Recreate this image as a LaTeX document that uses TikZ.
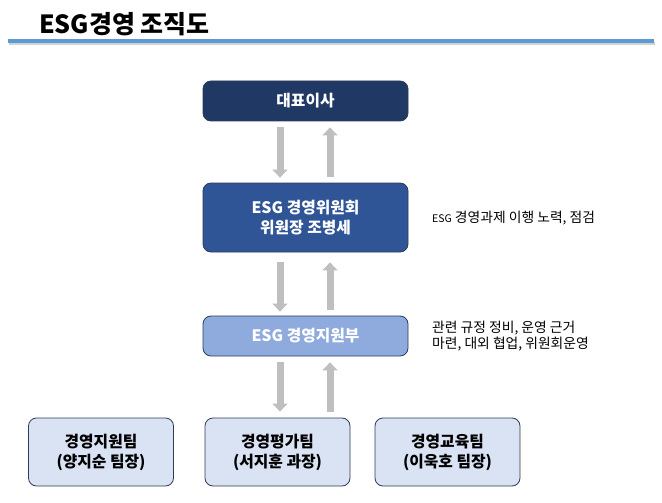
\documentclass[tikz,border=0pt]{standalone}
\usepackage{fontspec}
\setmainfont{Noto Sans CJK KR}
\usetikzlibrary{arrows.meta}

\definecolor{navyceo}{HTML}{203864}
\definecolor{bluecmte}{HTML}{2F5597}
\definecolor{bluedept}{HTML}{8FAADC}
\definecolor{blueteam}{HTML}{DAE3F3}
\definecolor{boxline}{HTML}{2F3B57}
\definecolor{headline}{HTML}{5B9BD5}
\definecolor{flowgray}{HTML}{BFBFBF}

\newcommand{\boxfont}{\fontsize{15.8}{20}\selectfont\bfseries}
\newcommand{\notefont}{\fontsize{13.8}{16.5}\selectfont}

\begin{document}
\begin{tikzpicture}[x=1pt,y=-1pt,
	orgbox/.style={draw=boxline,line width=0.8pt,rounded corners=8pt,
		minimum width=205pt,minimum height=40pt,inner sep=0pt,
		align=center,font=\boxfont},
	teambox/.style={orgbox,fill=blueteam,text=black,minimum width=145pt,minimum height=68pt},
	flow/.style={draw=flowgray,line width=7pt,-{Triangle[width=15pt,length=8pt]}},
	note/.style={anchor=west,align=left,inner sep=0pt,font=\notefont}]

		\useasboundingbox (0,0) rectangle (662,503);

		% title and rule
		\node (title) [anchor=west,inner sep=0pt,font=\fontsize{25}{28}\selectfont\bfseries] at (39,24.5) {ESG경영 조직도};
		\draw [line width=3pt,black!18] (9,44) -- (655,44);
		\draw [line width=3.5pt,headline] (8,41) -- (654,41);

		% boxes
		\node (ceo)  [orgbox,fill=navyceo,text=white] at (305.5,101) {대표이사};
		\node (cmte) [orgbox,fill=bluecmte,text=white,minimum height=69pt] at (305.5,217.5) {ESG 경영위원회\\위원장 조병세};
		\node (dept) [orgbox,fill=bluedept,text=white] at (305.5,336) {ESG 경영지원부};

		\node (team1) [teambox] at (101,452)   {경영지원팀\\(양지순 팀장)};
		\node (team2) [teambox] at (277.5,452) {경영평가팀\\(서지훈 과장)};
		\node (team3) [teambox] at (447.5,452) {경영교육팀\\(이욱호 팀장)};

		% notes
		\node (note1) [note] at (432,218) {{\fontsize{10.5}{12}\selectfont ESG} 경영과제 이행 노력, 점검};
		\node (note2) [note] at (432,336) {관련 규정 정비, 운영 근거\\마련, 대외 협업, 위원회운영};

		% arrows
		\draw [flow] ([xshift=-25.5pt,yshift=-6pt]ceo.south) -- ([xshift=-25.5pt,yshift=5pt]cmte.north);
		\draw [flow] ([xshift=24.5pt,yshift=6pt]cmte.north) -- ([xshift=24.5pt,yshift=-6pt]ceo.south);

		\draw [flow] ([xshift=-25.5pt,yshift=-10pt]cmte.south) -- ([xshift=-25.5pt,yshift=4pt]dept.north);
		\draw [flow] ([xshift=24.5pt,yshift=6pt]dept.north) -- ([xshift=24.5pt,yshift=-10pt]cmte.south);

		\draw [flow] ([xshift=-25.5pt,yshift=-6pt]dept.south) -- ([xshift=2.5pt,yshift=6pt]team2.north);
		\draw [flow] ([xshift=52.5pt,yshift=6pt]team2.north) -- ([xshift=24.5pt,yshift=-6pt]dept.south);
	\end{tikzpicture}
\end{document}
